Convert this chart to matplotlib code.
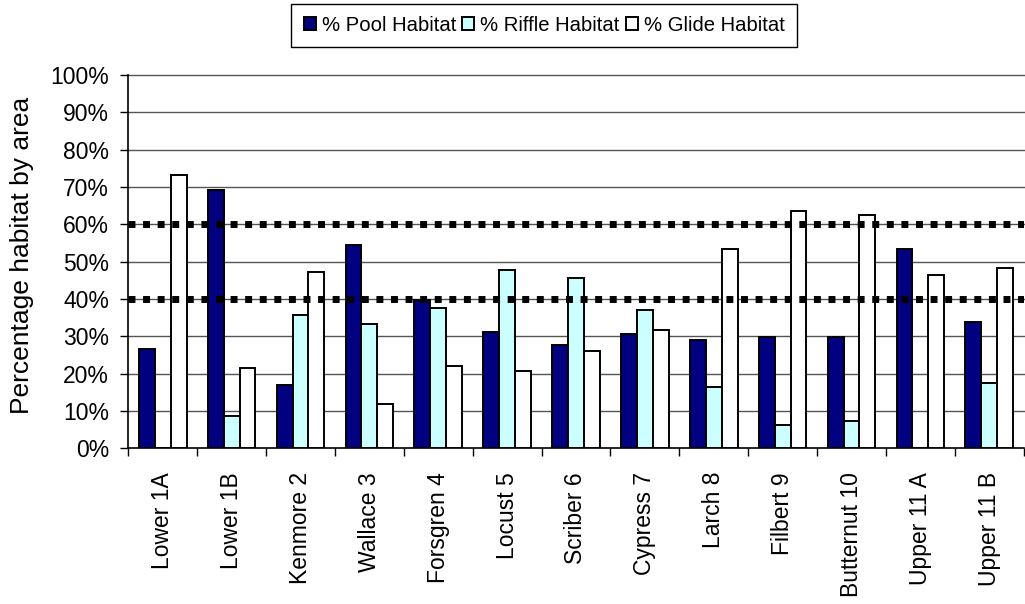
import matplotlib

matplotlib.use("Agg")
import matplotlib.pyplot as plt  # noqa: E402
import numpy as np  # noqa: E402
from matplotlib.ticker import PercentFormatter, FixedLocator  # noqa: E402

plt.rcParams["font.family"] = ["Liberation Sans", "DejaVu Sans"]

sites = ["Lower 1A", "Lower 1B", "Kenmore 2", "Wallace 3", "Forsgren 4", "Locust 5",
         "Scriber 6", "Cypress 7", "Larch 8", "Filbert 9", "Butternut 10",
         "Upper 11 A", "Upper 11 B"]
pool = [26.6, 69.1, 16.9, 54.4, 39.7, 31.1, 27.6, 30.7, 29.1, 29.7, 29.7, 53.4, 33.7]
riffle = [0.0, 8.7, 35.6, 33.2, 37.7, 47.8, 45.7, 37.1, 16.3, 6.2, 7.3, 0.0, 17.5]
glide = [73.1, 21.6, 47.3, 11.9, 22.1, 20.6, 26.0, 31.7, 53.3, 63.5, 62.6, 46.3, 48.3]
target_lines = [40, 60]

fig = plt.figure(figsize=(10.25, 6.04), dpi=100)
ax = fig.add_axes([0.1252, 0.2578, 0.8735, 0.618])

x = np.arange(len(sites))
w = 0.23
series = [
    ("% Pool Habitat", pool, "#000080"),
    ("% Riffle Habitat", riffle, "#CCFFFF"),
    ("% Glide Habitat", glide, "#FFFFFF"),
]
for i, (label, vals, color) in enumerate(series):
    ax.bar(x + (i - 1) * w, vals, w, color=color, edgecolor="black",
           linewidth=1.4, label=label, zorder=3)

ax.set_xlim(-0.5, len(sites) - 0.5)
ax.set_ylim(0, 100)
ax.set_yticks(np.arange(0, 101, 10))
ax.yaxis.set_major_formatter(PercentFormatter(xmax=100, decimals=0))
for yv in np.arange(10, 101, 10):
    ax.axhline(yv, color="#555555", lw=1.0, zorder=1, clip_on=False)
for yv in target_lines:
    ax.axhline(yv, color="black", lw=5, linestyle=(0, (1, 1.1)),
               dash_capstyle="butt", zorder=4)

ax.set_xticks(x)
ax.set_xticklabels(sites, rotation=90)
ax.xaxis.set_minor_locator(FixedLocator(np.arange(-0.5, len(sites), 1.0)))
ax.tick_params(axis="x", which="major", length=0, pad=17, labelsize=16.5)
ax.tick_params(axis="x", which="minor", length=6, width=1, direction="out")
ax.tick_params(axis="y", length=6, width=1, direction="out", pad=8, labelsize=16.5)

for s in ("top", "right"):
    ax.spines[s].set_visible(False)
for s in ("left", "bottom"):
    ax.spines[s].set_linewidth(1.2)

fig.text(0.021, 0.578, "Percentage habitat by area", rotation=90,
         ha="center", va="center", fontsize=19)

ax.legend(loc="center", bbox_to_anchor=(0.531, 0.958),
          bbox_transform=fig.transFigure, ncol=3, fontsize=14.6,
          frameon=True, fancybox=False, edgecolor="black", framealpha=1,
          handlelength=0.6, handleheight=0.6, handletextpad=0.3,
          columnspacing=0.3, borderpad=0.6, borderaxespad=0)
leg = ax.get_legend()
leg.get_frame().set_linewidth(1.0)

fig.savefig("out.png", dpi=100)
